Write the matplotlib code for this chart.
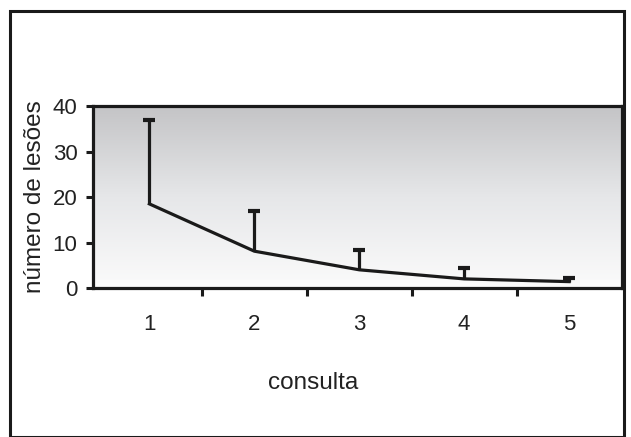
import numpy as np
import matplotlib
matplotlib.use("Agg")
import matplotlib.pyplot as plt
from matplotlib.patches import Rectangle

# Lesion counts per consultation: mean and upper error limit
consulta = [1, 2, 3, 4, 5]
media = [18.5, 8.1, 4.0, 2.0, 1.4]
limite_sup = [36.9, 17.0, 8.3, 4.3, 2.3]
y_ticks = [0, 10, 20, 30, 40]

plt.rcParams["font.family"] = ["Liberation Sans", "DejaVu Sans"]

fig = plt.figure(figsize=(6.31, 4.37), dpi=100)

# outer frame around the whole chart
fig.patches.append(Rectangle((0.016, 0.0), 0.973, 0.975, transform=fig.transFigure,
                             fill=False, edgecolor="#1a1a1a", linewidth=2.2, zorder=0))

ax = fig.add_axes([0.147, 0.341, 0.838, 0.416])

# vertical gray-to-white gradient inside the plot area
grad = np.linspace(0, 1, 256).reshape(-1, 1)
ax.imshow(grad, cmap=matplotlib.colors.LinearSegmentedColormap.from_list(
    "bg", ["#c4c4c6", "#e6e7e9", "#fbfbfb"]),
    extent=[0, 1, 0, 1], transform=ax.transAxes, aspect="auto", zorder=0)

# mean line
ax.plot(consulta, media, color="#1a1a1a", linewidth=2.3, zorder=3)
# upper error bars with caps
ax.vlines(consulta, media, limite_sup, color="#1a1a1a", linewidth=2.3, zorder=3)
ax.plot(consulta, limite_sup, linestyle="none", marker="_", markersize=9,
        markeredgewidth=3.0, color="#1a1a1a", zorder=3)

ax.set_xlim(0.46, 5.5)
ax.set_ylim(0, 40)
ax.set_yticks(y_ticks)

# ticks mark category boundaries; labels sit at category centers
ax.set_xticks([1.5, 2.5, 3.5, 4.5])
ax.set_xticklabels([])
ax.set_xticks(consulta, minor=True)
ax.set_xticklabels([str(c) for c in consulta], minor=True)
ax.tick_params(axis="x", which="major", direction="out", length=6, width=2.2,
               color="#1a1a1a")
ax.tick_params(axis="x", which="minor", length=0, pad=19, labelsize=16,
               labelcolor="#222222")
ax.tick_params(axis="y", direction="out", length=5, width=2.2, pad=6,
               labelsize=16, color="#1a1a1a", labelcolor="#222222")

for s in ax.spines.values():
    s.set_linewidth(2.3)
    s.set_color("#1a1a1a")

fig.text(0.497, 1 - 383 / 437, "consulta", fontsize=17.5, color="#222222",
         ha="center", va="center")
ax.set_ylabel("número de lesões", fontsize=17.5, color="#222222", labelpad=5)

fig.savefig("out.png", dpi=100)
